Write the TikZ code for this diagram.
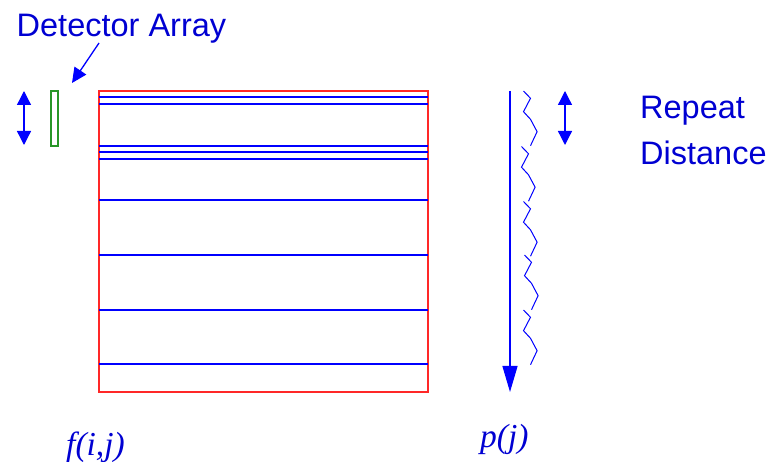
\documentclass[tikz,border=0pt]{standalone}
\usepackage{fontspec}
\setmainfont{Liberation Sans}
\newfontfamily\serifit{Liberation Serif}
\usetikzlibrary{arrows.meta}
\definecolor{txtblue}{RGB}{0,0,210}
\definecolor{lnblue}{RGB}{0,0,255}
\definecolor{rectred}{RGB}{255,40,40}
\definecolor{detgreen}{RGB}{40,150,40}
\begin{document}
\begin{tikzpicture}[x=1pt,y=-1pt,
 lbl/.style={inner sep=0pt, anchor=base west, text=txtblue, font=\fontsize{32.5}{38}\selectfont},
 mathlbl/.style={inner sep=0pt, anchor=base west, text=txtblue, font=\serifit\itshape\fontsize{33.5}{38}\selectfont},
 stripe/.style={draw=lnblue, line width=1.2pt},
 dbl/.style={draw=lnblue, line width=1.3pt, {Triangle[length=14pt,width=14pt]}-{Triangle[length=14pt,width=14pt]}},
 pointer/.style={draw=lnblue, line width=1.3pt, -{Triangle[length=15pt,width=14pt]}},
 bigarrow/.style={draw=lnblue, line width=1.3pt, -{Triangle[length=26pt,width=15pt]}},
 zig/.style={draw=lnblue, line width=1pt, line join=miter},
]
\useasboundingbox (0,0) rectangle (769,462);

% image frame
\node[draw=rectred, line width=1.5pt, minimum width=329pt, minimum height=301pt,
      inner sep=0pt, outer sep=0pt, anchor=north west] (img) at (99,91) {};
\foreach \y in {97,104,146,152,159,200,255,310,364}
  \draw[stripe] (img.west |- {(0,\y)}) -- (img.east |- {(0,\y)});

% detector
\node[draw=detgreen, line width=1.2pt, minimum width=7pt, minimum height=55pt,
      inner sep=0pt, outer sep=0pt, anchor=north west] (det) at (51,91) {};
\coordinate (la1) at (24,91);
\coordinate (la2) at (24,145);
\draw[dbl] (la1) -- (la2);

\node[lbl] (dlabel) at (16.5,36.5) {Detector Array};
\coordinate (da1) at (99,43);
\coordinate (da2) at (72,83);
\draw[pointer] (da1) -- (da2);

% projection
\coordinate (pa1) at (510,91);
\coordinate (pa2) at (510,392);
\draw[bigarrow] (pa1) -- (pa2);

\foreach \y/\x in {91/523.5, 146.5/521.5, 201.5/523.5, 255/524.5, 310/523.5}
  \draw[zig] (\x,\y) -- ++(7,7.3) -- ++(-7,13.4) -- ++(7,7.6) -- ++(6.6,12.4) -- ++(-6.6,14);

\coordinate (ra1) at (565,91);
\coordinate (ra2) at (565,145);
\draw[dbl] (ra1) -- (ra2);

\node[lbl] (rep) at (640,118.5) {Repeat};
\node[lbl] (dist) at (640,164.5) {Distance};

\node[mathlbl] (flbl) at (66,455) {f(i,j)};
\node[mathlbl] (plbl) at (480,447) {p(j)};
\end{tikzpicture}
\end{document}
